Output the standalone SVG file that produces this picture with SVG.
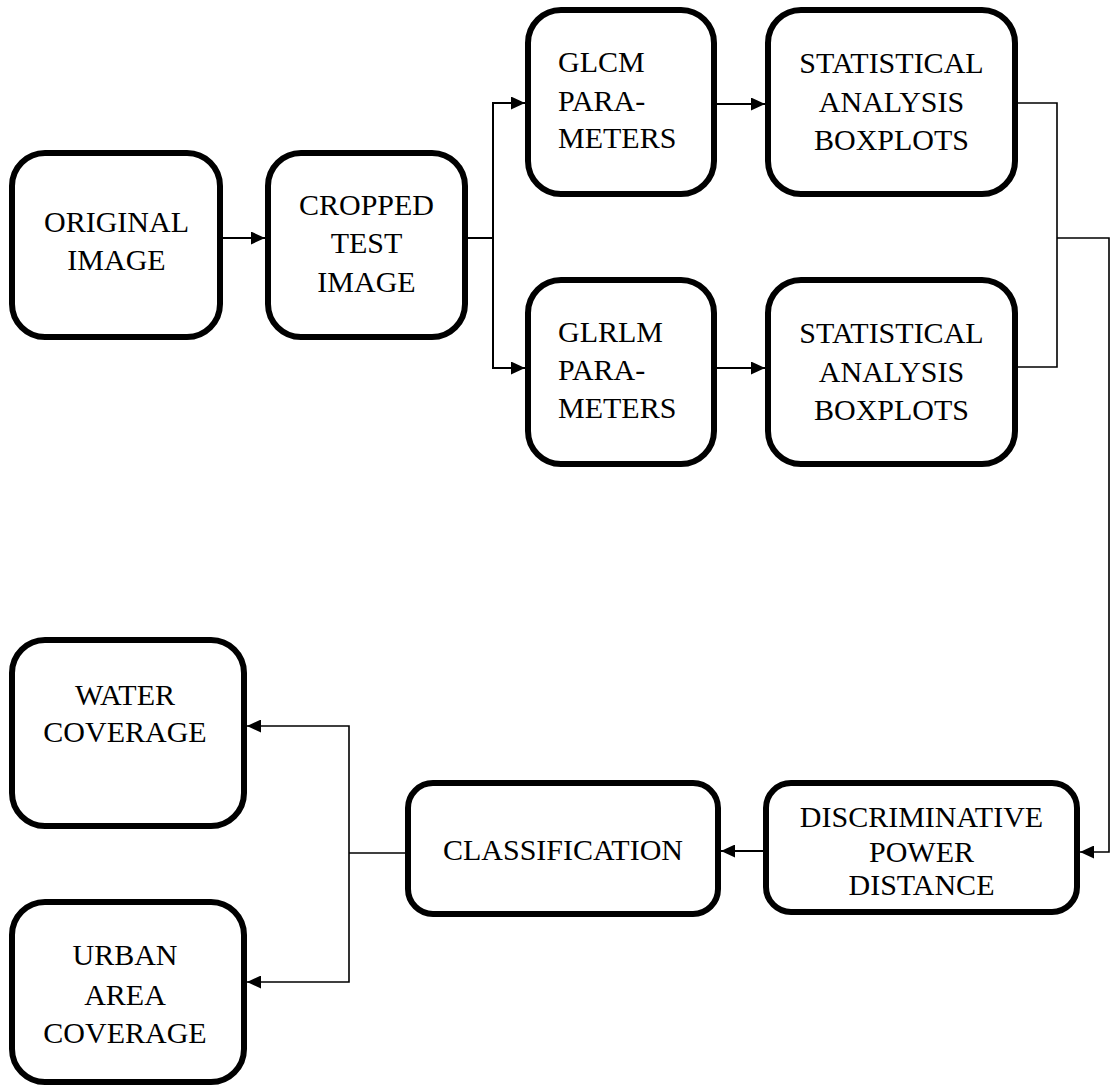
<svg xmlns="http://www.w3.org/2000/svg" width="1110" height="1088" viewBox="0 0 1110 1088">
  <defs>
    <style>
      .box { fill: #ffffff; stroke: #000000; stroke-width: 6; }
      text { font-family: "Liberation Serif", "Times New Roman", serif; font-size: 30px; fill: #000000; text-anchor: middle; }
      text.left { text-anchor: start; }
      .wire { fill: none; stroke: #000000; stroke-width: 2; }
      .wire.thin { stroke-width: 1.6; }
    </style>
    <marker id="arrow" viewBox="0 0 14 13" refX="14" refY="6.5" markerWidth="14" markerHeight="13" markerUnits="userSpaceOnUse" orient="auto">
      <path d="M0,0 L14,6.5 L0,13 Z" fill="#000000"/>
    </marker>
  </defs>
  <rect width="1110" height="1088" fill="#ffffff"/>

  <!-- connectors -->
  <g id="connectors">
    <line class="wire" x1="223" y1="238" x2="265" y2="238" marker-end="url(#arrow)"/>
    <polyline class="wire" points="468,238 493,238"/>
    <polyline class="wire" points="493,368 493,103 525,103" marker-end="url(#arrow)"/>
    <polyline class="wire" points="493,238 493,368 525,368" marker-end="url(#arrow)"/>
    <line class="wire" x1="717" y1="104" x2="765" y2="104" marker-end="url(#arrow)"/>
    <line class="wire" x1="710" y1="368" x2="765" y2="368" marker-end="url(#arrow)"/>
    <polyline class="wire thin" points="1018,103 1057,103 1057,367 1018,367"/>
    <polyline class="wire thin" points="1057,238 1109,238 1109,852 1080,852" marker-end="url(#arrow)"/>
    <line class="wire" x1="763" y1="851" x2="721" y2="851" marker-end="url(#arrow)"/>
    <polyline class="wire thin" points="405,853 349,853"/>
    <polyline class="wire thin" points="349,853 349,726 247,726" marker-end="url(#arrow)"/>
    <polyline class="wire thin" points="349,853 349,982 247,982" marker-end="url(#arrow)"/>
  </g>

  <!-- nodes -->
  <g id="original-image">
    <rect class="box" x="12" y="153" width="208" height="184" rx="33"/>
    <text x="116.5" y="232">ORIGINAL</text>
    <text x="116.5" y="270">IMAGE</text>
  </g>
  <g id="cropped-test-image">
    <rect class="box" x="268" y="153" width="197" height="184" rx="33"/>
    <text x="366.5" y="215">CROPPED</text>
    <text x="366.5" y="253">TEST</text>
    <text x="366.5" y="292">IMAGE</text>
  </g>
  <g id="glcm-parameters">
    <rect class="box" x="528" y="10" width="186" height="184" rx="33"/>
    <text class="left" x="558" y="72">GLCM</text>
    <text class="left" x="558" y="111">PARA-</text>
    <text class="left" x="558" y="148">METERS</text>
  </g>
  <g id="glcm-statistical-analysis">
    <rect class="box" x="768" y="10" width="247" height="184" rx="33"/>
    <text x="891.5" y="73">STATISTICAL</text>
    <text x="891.5" y="112">ANALYSIS</text>
    <text x="891.5" y="150">BOXPLOTS</text>
  </g>
  <g id="glrlm-parameters">
    <rect class="box" x="528" y="280" width="186" height="184" rx="33"/>
    <text class="left" x="558" y="342">GLRLM</text>
    <text class="left" x="558" y="380">PARA-</text>
    <text class="left" x="558" y="418">METERS</text>
  </g>
  <g id="glrlm-statistical-analysis">
    <rect class="box" x="768" y="280" width="247" height="184" rx="33"/>
    <text x="891.5" y="343">STATISTICAL</text>
    <text x="891.5" y="382">ANALYSIS</text>
    <text x="891.5" y="420">BOXPLOTS</text>
  </g>
  <g id="discriminative-power-distance">
    <rect class="box" x="766" y="783" width="311" height="129" rx="25"/>
    <text x="921.5" y="827">DISCRIMINATIVE</text>
    <text x="921.5" y="862">POWER</text>
    <text x="921.5" y="895">DISTANCE</text>
  </g>
  <g id="classification">
    <rect class="box" x="408" y="783" width="310" height="131" rx="25"/>
    <text x="563" y="860">CLASSIFICATION</text>
  </g>
  <g id="water-coverage">
    <rect class="box" x="12" y="640" width="232" height="186" rx="33"/>
    <text x="125" y="705">WATER</text>
    <text x="125" y="742">COVERAGE</text>
  </g>
  <g id="urban-area-coverage">
    <rect class="box" x="12" y="902" width="232" height="180" rx="33"/>
    <text x="125" y="965">URBAN</text>
    <text x="125" y="1005">AREA</text>
    <text x="125" y="1043">COVERAGE</text>
  </g>
</svg>
